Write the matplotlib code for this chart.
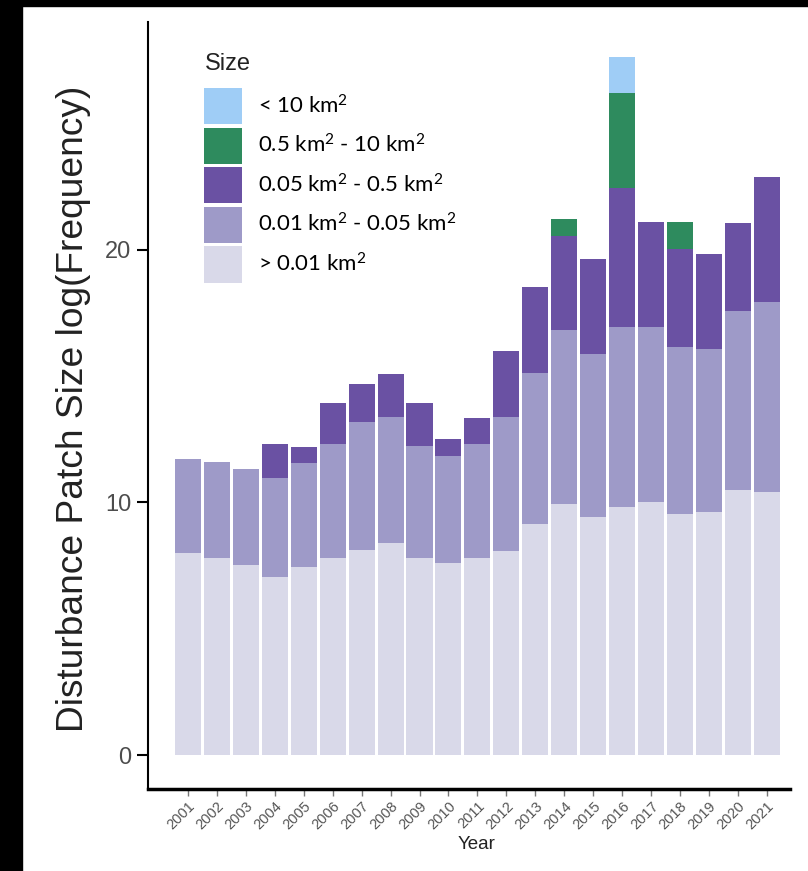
import matplotlib
matplotlib.use("Agg")
import matplotlib.pyplot as plt
from matplotlib.patches import Rectangle
import numpy as np


# values, one list per size class (segment heights)
years = [str(y) for y in range(2001, 2022)]
gt_001 = [8.0, 7.8, 7.52, 7.05, 7.45, 7.8, 8.12, 8.4, 7.8, 7.6, 7.8,
          8.06, 9.13, 9.92, 9.41, 9.8, 10.0, 9.53, 9.6, 10.47, 10.4]
r001_005 = [3.72, 3.8, 3.81, 3.92, 4.11, 4.52, 5.07, 4.99, 4.44, 4.24, 4.52,
            5.3, 5.97, 6.88, 6.44, 7.12, 6.92, 6.6, 6.45, 7.08, 7.54]
r005_05 = [0, 0, 0, 1.35, 0.64, 1.62, 1.5, 1.7, 1.7, 0.67, 1.03,
           2.64, 3.4, 3.75, 3.79, 5.53, 4.18, 3.91, 3.79, 3.48, 4.91]
r05_10 = [0, 0, 0, 0, 0, 0, 0, 0, 0, 0, 0,
          0, 0, 0.64, 0, 3.75, 0, 1.06, 0, 0, 0]
lt_10 = [0, 0, 0, 0, 0, 0, 0, 0, 0, 0, 0,
         0, 0, 0, 0, 1.43, 0, 0, 0, 0, 0]

labels = ["> 0.01 km$^2$", "0.01 km$^2$ - 0.05 km$^2$",
          "0.05 km$^2$ - 0.5 km$^2$", "0.5 km$^2$ - 10 km$^2$", "< 10 km$^2$"]
colors = ["#d9d9e9", "#9e9ac8", "#6a51a3", "#2e8b5e", "#9fcdf6"]
series = [gt_001, r001_005, r005_05, r05_10, lt_10]


def main():
    plt.rcParams["font.family"] = ["Liberation Sans", "DejaVu Sans"]
    plt.rcParams["mathtext.fontset"] = "custom"
    plt.rcParams["mathtext.rm"] = "Lato"
    plt.rcParams["mathtext.it"] = "Lato"

    fig = plt.figure(figsize=(8.08, 8.71), dpi=100)
    ax = fig.add_axes([148 / 808, 1 - 789 / 871, 642 / 808, 767 / 871])

    x = np.arange(len(years))
    bottom = np.zeros(len(years))
    handles = []
    for vals, lab, col in zip(series, labels, colors):
        bars = ax.bar(x, vals, width=0.9, bottom=bottom, color=col, label=lab)
        handles.append(bars)
        bottom += np.array(vals)

    ax.set_xlim(-1.38, 20.8)
    ax.set_ylim(-1.34, 29)
    ax.set_yticks([0, 10, 20])
    ax.set_xticks(x)
    ax.set_xticklabels(years, rotation=45, ha="right", rotation_mode="anchor",
                       fontsize=10.5, color="#555555")
    ax.tick_params(axis="x", length=5, width=1, color="#777777", pad=2)
    ax.tick_params(axis="y", length=8, width=1.5, labelsize=17,
                   labelcolor="#4d4d4d", pad=4)

    for s in ["top", "right"]:
        ax.spines[s].set_visible(False)
    ax.spines["left"].set_linewidth(1.5)
    ax.spines["bottom"].set_linewidth(2.5)

    ax.set_xlabel("Year", fontsize=13.5, color="#222222", va="top")
    ax.xaxis.set_label_coords(0.511, -0.061)
    ax.set_ylabel("Disturbance Patch Size log(Frequency)", fontsize=26.7,
                  color="#222222")
    ax.yaxis.set_label_coords(-0.089, 0.495)

    # legend title drawn on its own so the gap under it matches
    fig.text(205 / 808, 1 - 64 / 871, "Size", fontsize=17, va="center",
             ha="left", color="#222222")
    ax.legend(handles[::-1], labels[::-1], loc="upper left",
              bbox_to_anchor=(204 / 808, 1 - 88 / 871),
              bbox_transform=fig.transFigure, frameon=False,
              prop={"family": "Lato", "size": 16},
              handlelength=1.71, handleheight=2.12, labelspacing=0.16,
              handletextpad=0.7, borderpad=0, borderaxespad=0)

    # black frame strips of the original screenshot
    fig.add_artist(Rectangle((0, 0), 22 / 808, 1, transform=fig.transFigure,
                             color="black", zorder=10))
    fig.add_artist(Rectangle((0, 1 - 6 / 871), 1, 6 / 871,
                             transform=fig.transFigure, color="black", zorder=10))

    fig.savefig("out.png", dpi=100)


if __name__ == "__main__":
    main()
